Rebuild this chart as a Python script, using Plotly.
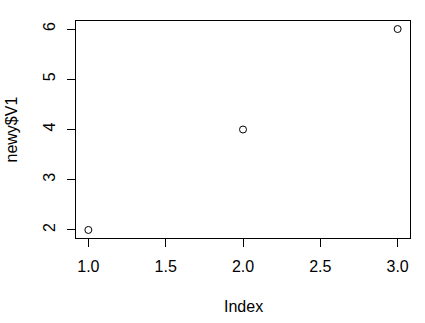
import plotly.graph_objects as go

index = [1, 2, 3]
values = [2, 4, 6]
x_ticks = [1.0, 1.5, 2.0, 2.5, 3.0]
x_ticktext = ["1.0", "1.5", "2.0", "2.5", "3.0"]
y_ticks = [2, 3, 4, 5, 6]

font = dict(family="Liberation Sans, Arial, sans-serif", size=16, color="black")

fig = go.Figure(go.Scatter(
    x=index, y=values, mode="markers",
    marker=dict(symbol="circle-open", size=7, color="black", line=dict(width=1, color="black")),
    showlegend=False,
))

fig.update_layout(
    width=425, height=323,
    margin=dict(l=76, r=15, t=21, b=85),
    paper_bgcolor="white", plot_bgcolor="white",
    font=font,
    xaxis=dict(range=[0.92, 3.08], tickvals=x_ticks, ticktext=x_ticktext,
               ticks="outside", ticklen=8, tickcolor="black", tickwidth=1,
               showline=True, mirror=True, linecolor="black", linewidth=1,
               showgrid=False, zeroline=False, tickfont=font, ticklabelstandoff=6),
    yaxis=dict(range=[1.84, 6.16], tickvals=y_ticks,
               ticks="outside", ticklen=8, tickcolor="black", tickwidth=1,
               showline=True, mirror=True, linecolor="black", linewidth=1,
               showgrid=False, zeroline=False, tickfont=font, tickangle=-90,
               ticklabelstandoff=6),
    annotations=[
        dict(text="Index", x=0.5, y=0, xref="paper", yref="paper",
             xanchor="center", yanchor="middle", yshift=-68, showarrow=False, font=font),
        dict(text="newy$V1", x=0, y=0.5, xref="paper", yref="paper",
             xanchor="center", yanchor="middle", xshift=-65, textangle=-90,
             showarrow=False, font=font),
    ],
)

fig.write_html("out.html")
